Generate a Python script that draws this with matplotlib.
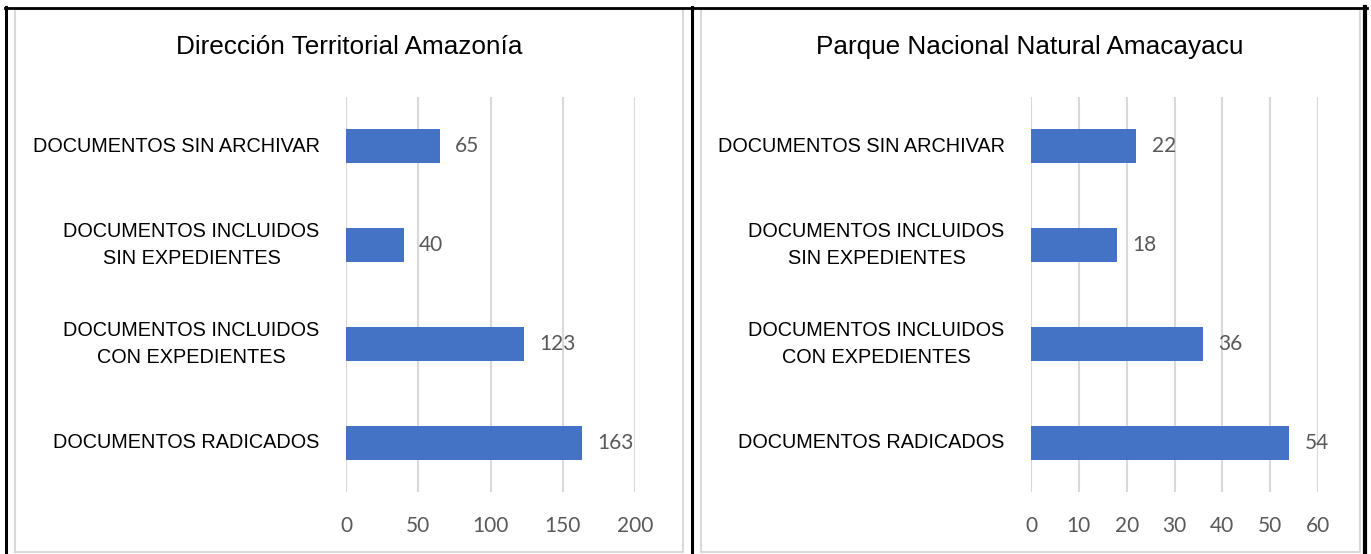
import matplotlib
matplotlib.use("Agg")
from matplotlib import pyplot as plt
from matplotlib.patches import Rectangle
from matplotlib.lines import Line2D

plt.rcParams['font.family'] = ['Liberation Sans', 'DejaVu Sans']

categorias = ["DOCUMENTOS RADICADOS",
              "DOCUMENTOS INCLUIDOS\nCON EXPEDIENTES",
              "DOCUMENTOS INCLUIDOS\nSIN EXPEDIENTES",
              "DOCUMENTOS SIN ARCHIVAR"]
valores_dta = [163, 123, 40, 65]
valores_pnn = [54, 36, 18, 22]
titulo_dta = "Dirección Territorial Amazonía"
titulo_pnn = "Parque Nacional Natural Amacayacu"
ticks_dta = [0, 50, 100, 150, 200]
ticks_pnn = [0, 10, 20, 30, 40, 50, 60]

W, H = 1371, 554
azul = '#4472C4'
gris = '#D9D9D9'
texto_num = '#595959'

fig = plt.figure(figsize=(W/100, H/100), dpi=100)

def fx(px):
    return px / W

def fy(py):
    return 1 - py / H

# marcos grises de cada panel
for x0, x1 in [(15, 683), (701, 1360)]:
    fig.patches.append(Rectangle((fx(x0), fy(552)), fx(x1) - fx(x0), fy(9) - fy(552),
                                 transform=fig.transFigure, fill=False,
                                 edgecolor=gris, linewidth=1.5))

# lineas negras
fig.lines.append(Line2D([fx(5), fx(1367)], [fy(7.5), fy(7.5)], transform=fig.transFigure, color='k', lw=2))
for xv, lw in [(6, 2.2), (692, 2.2), (1365, 3)]:
    fig.lines.append(Line2D([fx(xv), fx(xv)], [fy(7), 0], transform=fig.transFigure, color='k', lw=lw))

def panel(x0, x1, valores, ticks, titulo, tx):
    ax = fig.add_axes([fx(x0), fy(492), fx(x1) - fx(x0), fy(97) - fy(492)])
    ax.barh(range(len(categorias)), valores, height=0.345, color=azul, zorder=3)
    ax.set_xlim(ticks[0], ticks[-1])
    ax.set_ylim(-0.5, len(categorias) - 0.5)
    ax.set_xticks(ticks)
    ax.set_xticklabels([str(t) for t in ticks], family='Lato', fontsize=15, color=texto_num)
    ax.set_yticks(range(len(categorias)))
    ax.set_yticklabels(categorias, fontsize=14.3, color='black', linespacing=1.55)
    for t in ax.get_yticklabels():
        t.set_multialignment('center')
        t.set_verticalalignment('center')
    ax.tick_params(axis='both', length=0)
    ax.tick_params(axis='x', pad=17)
    ax.tick_params(axis='y', pad=19)
    ax.grid(axis='x', color=gris, linewidth=1.5, zorder=0)
    for s in ax.spines.values():
        s.set_visible(False)
    for i, v in enumerate(valores):
        ax.annotate(str(v), (v, i), xytext=(11, 0), textcoords='offset points',
                    va='center', ha='left', family='Lato', fontsize=15, color=texto_num)
    fig.text(fx(tx), fy(47), titulo, ha='center', va='center', fontsize=18.8)
    return ax

panel(346, 635, valores_dta, ticks_dta, titulo_dta, 349)
panel(1031, 1318, valores_pnn, ticks_pnn, titulo_pnn, 1030)

fig.savefig("out.png", dpi=100)
